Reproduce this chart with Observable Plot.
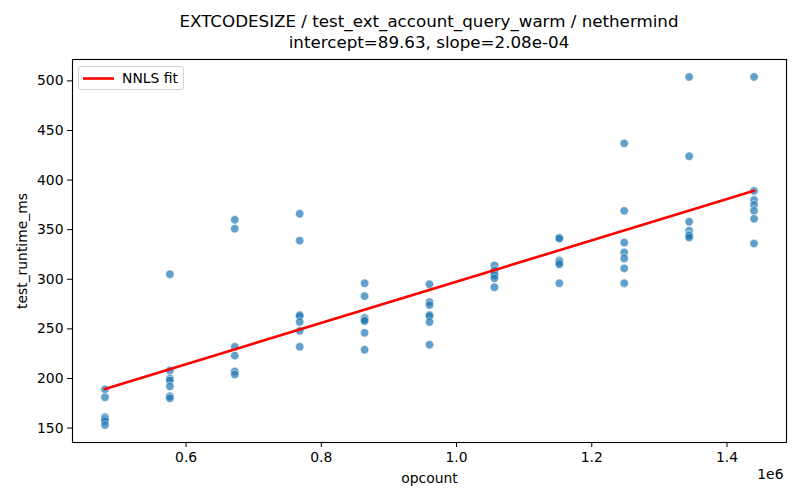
<!DOCTYPE html>
<html><head><meta charset="utf-8">
<script src="https://cdn.jsdelivr.net/npm/d3@7"></script>
<script src="https://cdn.jsdelivr.net/npm/@observablehq/plot@0.6"></script>
<style>
body{margin:0;background:#fff;font-family:"DejaVu Sans",sans-serif;}
#wrap{position:relative;width:800px;height:500px;overflow:hidden;}
#title{margin-left:72px;width:714px;height:56px;padding-top:11px;box-sizing:border-box;text-align:center;font-size:16.7px;line-height:21px;color:#000;}
#legend{position:absolute;left:78px;top:66px;width:106px;height:24px;box-sizing:border-box;border:1px solid #d0d0d0;border-radius:3px;background:rgba(255,255,255,0.85);font-size:13.9px;color:#000;}
#legend svg{position:absolute;left:3px;top:5px;}
#legend span{position:absolute;left:43px;top:3px;line-height:16px;}
</style></head><body>
<div id="wrap">
<div id="title"></div>
<div id="chart"></div>
<div id="legend"><svg width="34" height="14"><line x1="1" x2="32" y1="6.5" y2="6.5" stroke="red" stroke-width="2.6"/></svg><span>NNLS fit</span></div>
</div>
<script>
const intercept = 89.63;
const slope = 2.08e-4;
const opcount = [
  480000,480000,480000,480000,480000,480000,
  576000,576000,576000,576000,576000,576000,576000,
  672000,672000,672000,672000,672000,672000,
  768000,768000,768000,768000,768000,768000,768000,
  864000,864000,864000,864000,864000,864000,864000,
  960000,960000,960000,960000,960000,960000,960000,
  1056000,1056000,1056000,1056000,1056000,1056000,
  1152000,1152000,1152000,1152000,1152000,1152000,
  1248000,1248000,1248000,1248000,1248000,1248000,1248000,
  1344000,1344000,1344000,1344000,1344000,1344000,1344000,
  1440000,1440000,1440000,1440000,1440000,1440000,1440000
];
const runtime = [
  189,181,161,159,157,153,
  305,208,200,198,192,182,180,
  360,351,232,223,207,204,
  366,339,264,263,257,248,232,
  296,283,261,259,258,246,229,
  295,277,274,264,263,257,234,
  314,309,306,304,301,292,
  342,341,319,317,315,296,
  437,369,337,327,321,311,296,
  504,424,358,349,345,344,342,
  504,389,380,375,369,361,336
];
const xTicks = [600000, 800000, 1000000, 1200000, 1400000];
const yTicks = [150, 200, 250, 300, 350, 400, 450, 500];

document.getElementById("title").innerHTML =
  "EXTCODESIZE / test_ext_account_query_warm / nethermind<br>intercept=" +
  intercept.toFixed(2) + ", slope=" + slope.toExponential(2).replace("e-", "e-0");

const data = opcount.map((x, i) => ({opcount: x, runtime: runtime[i]}));
const xMin = d3.min(opcount), xMax = d3.max(opcount);
const fit = [xMin, xMax].map(x => ({opcount: x, runtime: intercept + slope * x}));
const xPad = (xMax - xMin) * 0.05;
const yMin = d3.min(runtime), yMax = d3.max(runtime), yPad = (yMax - yMin) * 0.05;

const chart = Plot.plot({
  width: 800, height: 444,
  marginLeft: 72, marginRight: 14, marginTop: 3, marginBottom: 58,
  style: {fontFamily: "DejaVu Sans", fontSize: "13.9px", color: "#000", background: "#fff"},
  x: {domain: [xMin - xPad, xMax + xPad], ticks: xTicks, tickFormat: d => (d / 1e6).toFixed(1),
      tickSize: 5, tickPadding: 5, label: "opcount", labelAnchor: "center", labelOffset: 40, labelArrow: "none"},
  y: {domain: [yMin - yPad, yMax + yPad], ticks: yTicks, tickSize: 5, tickPadding: 4,
      label: "test_runtime_ms", labelAnchor: "center", labelOffset: 55, labelArrow: "none"},
  marks: [
    Plot.dot(data, {x: "opcount", y: "runtime", r: 4.2, fill: "#1f77b4", fillOpacity: 0.7,
                    stroke: "white", strokeWidth: 0.7, strokeOpacity: 0.7}),
    Plot.line(fit, {x: "opcount", y: "runtime", stroke: "red", strokeWidth: 2.6}),
    Plot.frame({stroke: "#000", strokeWidth: 1.1}),
    Plot.text(["1e6"], {frameAnchor: "bottom-right", dy: 36, dx: -3, textAnchor: "end", fontSize: 13.9})
  ]
});
document.getElementById("chart").appendChild(chart);
</script>
</body></html>
